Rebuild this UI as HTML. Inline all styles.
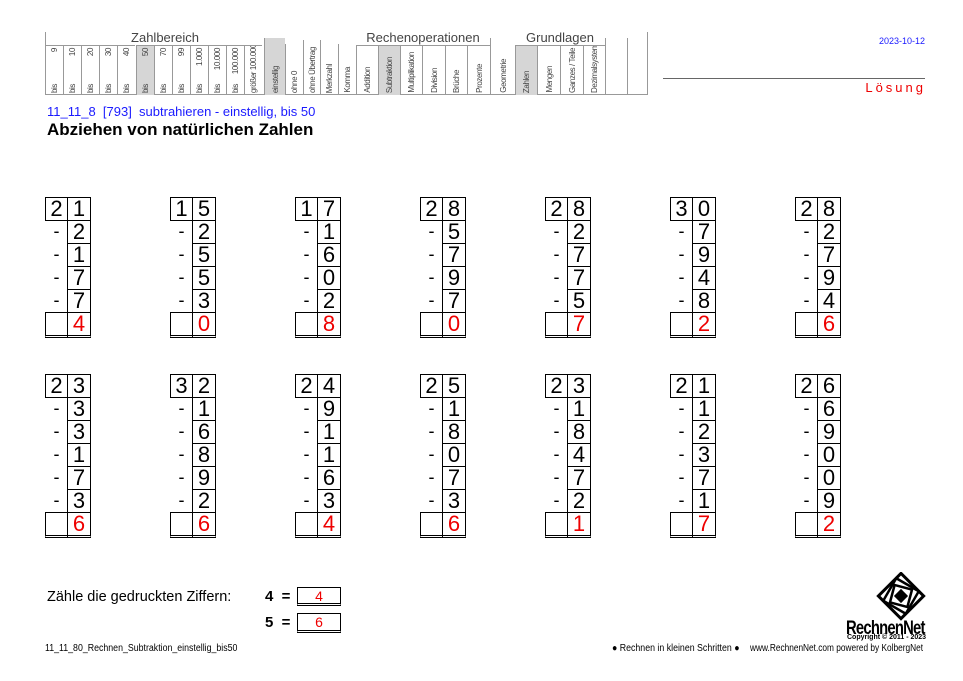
<!DOCTYPE html>
<html><head><meta charset="utf-8">
<style>
body{margin:0;width:963px;height:681px;background:#fff;position:relative;overflow:hidden;font-family:"Liberation Sans",sans-serif;}
.a{position:absolute;}
.cell{position:absolute;box-sizing:border-box;font-size:22px;text-align:center;line-height:22px;}
</style></head>
<body>
<div id="hdr"></div>
<div class="a" style="left:875px;top:36px;width:50px;text-align:right;font-size:9px;color:#1a1aff">2023-10-12</div>
<div class="a" style="left:663px;top:78px;width:262px;border-top:1px solid #666"></div>
<div class="a" style="left:860px;top:80px;width:66px;text-align:right;font-size:13px;color:#e00;letter-spacing:3px">Lösung</div>
<div class="a" style="left:47px;top:104px;font-size:13px;color:#1a1aff;white-space:pre">11_11_8  [793]  subtrahieren - einstellig, bis 50</div>
<div class="a" style="left:47px;top:120px;font-size:17px;font-weight:bold">Abziehen von natürlichen Zahlen</div>
<div id="probs"></div>
<div class="a" style="left:47px;top:589px;font-size:14.5px">Zähle die gedruckten Ziffern:</div>
<div class="a" style="left:265px;top:588px;font-size:15px;font-weight:bold">4 &nbsp;=</div>
<div class="a" style="left:297px;top:587px;width:44px;height:19px;border:1px solid #000;border-bottom:3px double #000;box-sizing:border-box;color:#e00;text-align:center;font-size:14px;line-height:16px">4</div>
<div class="a" style="left:265px;top:614px;font-size:15px;font-weight:bold">5 &nbsp;=</div>
<div class="a" style="left:297px;top:613px;width:44px;height:20px;border:1px solid #000;border-bottom:3px double #000;box-sizing:border-box;color:#e00;text-align:center;font-size:14px;line-height:16px">6</div>
<div class="a" style="left:45px;top:643px;font-size:10px;transform:scaleX(0.88);transform-origin:left">11_11_80_Rechnen_Subtraktion_einstellig_bis50</div>
<div class="a" style="left:612px;top:643px;font-size:10px;transform:scaleX(0.88);transform-origin:left;white-space:nowrap">● Rechnen in kleinen Schritten ●</div>
<div class="a" style="left:750px;top:643px;font-size:10px;transform:scaleX(0.83);transform-origin:left;white-space:nowrap">www.RechnenNet.com powered by KolbergNet</div>
<svg class="a" style="left:874px;top:572px" width="54" height="50">
<g transform="translate(27,24)">
<rect x="-16" y="-16" width="32" height="32" transform="rotate(45)" fill="none" stroke="#000" stroke-width="3"/>
<rect x="-13" y="-13" width="26" height="26" transform="rotate(30)" fill="none" stroke="#000" stroke-width="2.5"/>
<rect x="-9" y="-9" width="18" height="18" transform="rotate(15)" fill="none" stroke="#000" stroke-width="2.5"/>
<rect x="-5" y="-5" width="10" height="10" transform="rotate(45)" fill="#000"/>
</g></svg>
<div class="a" style="left:846px;top:618px;font-size:19px;font-weight:bold;letter-spacing:-1px;transform:scaleX(0.78);transform-origin:left;white-space:nowrap">RechnenNet</div>
<div class="a" style="left:847px;top:634px;font-size:7px;font-weight:bold;white-space:nowrap">Copyright © 2011 - 2023</div>
<script>
const hdr=document.getElementById('hdr');
function add(parent,html,style,name){const d=document.createElement('div');d.className='a';d.style.cssText=style;d.innerHTML=html;


parent.appendChild(d);return d;}
function vlabel(txt,bottom){return '<span style="position:absolute;left:0;right:0;'+(bottom?'bottom:2px':'top:2px')+';display:flex;justify-content:center"><span style="writing-mode:vertical-rl;transform:rotate(180deg);font-size:8px;color:#444;white-space:nowrap;line-height:9px;display:inline-block;letter-spacing:-0.4px">'+txt+'</span></span>';}
add(hdr,'','left:45px;top:32px;width:603px;height:63px;border-left:1px solid #999;border-right:1px solid #999;border-bottom:1px solid #999;box-sizing:border-box','header-frame');
add(hdr,'Zahlbereich','left:45px;top:30px;width:240px;text-align:center;font-size:13px;color:#444','zahlbereich-title');
add(hdr,'Rechenoperationen','left:356px;top:30px;width:134px;text-align:center;font-size:13px;color:#444','rechenoperationen-title');
add(hdr,'Grundlagen','left:515px;top:30px;width:90px;text-align:center;font-size:13px;color:#444','grundlagen-title');
const tops=['9','10','20','30','40','50','70','99','1.000','10.000','100.000',''];
for(let i=0;i<12;i++){const x=45+i*18.1;
 const c=add(hdr,'','left:'+x+'px;top:45px;width:18.1px;height:50px;border-left:1px solid #999;border-top:1px solid #999;box-sizing:border-box;overflow:hidden;'+(i==5?'background:#d6d6d6':''),'range-cell');
 c.innerHTML=(i<11?vlabel(tops[i],false)+vlabel('bis',true):vlabel('größer 100.000',true));}
const cols=[[264,21,38,'einstellig',1],[285,18,44,'ohne 0',0],[303,17,40,'ohne Übertrag',0],[320,18,40,'Merkzahl',0],[338,18,44,'Komma',0],
[356,22,45,'Addition',0],[378,22,45,'Subtraktion',1],[400,22,45,'Multiplikation',0],[422,23,45,'Division',0],[445,22,45,'Brüche',0],[467,23,45,'Prozente',0],
[490,25,38,'Geometrie',0],[515,22,45,'Zahlen',1],[537,23,45,'Mengen',0],[560,23,45,'Ganzes / Teile',0],[583,22,45,'Dezimalsystem',0],[605,22,38,'',0],[627,21,38,'',0]];
cols.forEach(c=>{add(hdr,vlabel(c[3],true),'left:'+c[0]+'px;top:'+c[2]+'px;width:'+c[1]+'px;height:'+(95-c[2])+'px;border-left:1px solid #999;box-sizing:border-box;overflow:hidden;'+(c[4]?'background:#d6d6d6;':'')+(c[2]==45?'border-top:1px solid #999;':''),'topic-cell');});

const tops1=[[2,1],[1,5],[1,7],[2,8],[2,8],[3,0],[2,8]];
const subs1=[[2,1,7,7],[2,5,5,3],[1,6,0,2],[5,7,9,7],[2,7,7,5],[7,9,4,8],[2,7,9,4]];
const res1=[4,0,8,0,7,2,6];
const tops2=[[2,3],[3,2],[2,4],[2,5],[2,3],[2,1],[2,6]];
const subs2=[[3,3,1,7,3],[1,6,8,9,2],[9,1,1,6,3],[1,8,0,7,3],[1,8,4,7,2],[1,2,3,7,1],[6,9,0,0,9]];
const res2=[6,6,4,6,1,7,2];
const P=document.getElementById('probs');
function cell(x,y,w,txt,style,name){const d=document.createElement('div');d.className='cell';
 d.style.cssText='left:'+x+'px;top:'+y+'px;width:'+w+'px;height:24px;'+style;d.textContent=txt;
 
 
 P.appendChild(d);}
function block(x0,y0,t,s,r){const h=23;
 cell(x0,y0,23,t[0],'border:1px solid #000;','top-tens');
 cell(x0+22,y0,24,t[1],'border:1px solid #000;','top-ones');
 s.forEach((v,i)=>{const y=y0+(i+1)*h;
  cell(x0,y,23,'-','font-size:18px;','minus-sign');
  cell(x0+22,y,24,v,'border:1px solid #000;','subtrahend');});
 const y=y0+(s.length+1)*h;
 cell(x0,y,23,'','border:1px solid #000;border-bottom:3px double #000;height:26px;','result-tens');
 cell(x0+22,y,24,r,'border:1px solid #000;border-bottom:3px double #000;height:26px;color:#e00;','result-ones');}
for(let i=0;i<7;i++){block(45+i*125,197,tops1[i],subs1[i],res1[i]);block(45+i*125,374,tops2[i],subs2[i],res2[i]);}
</script>
</body></html>
